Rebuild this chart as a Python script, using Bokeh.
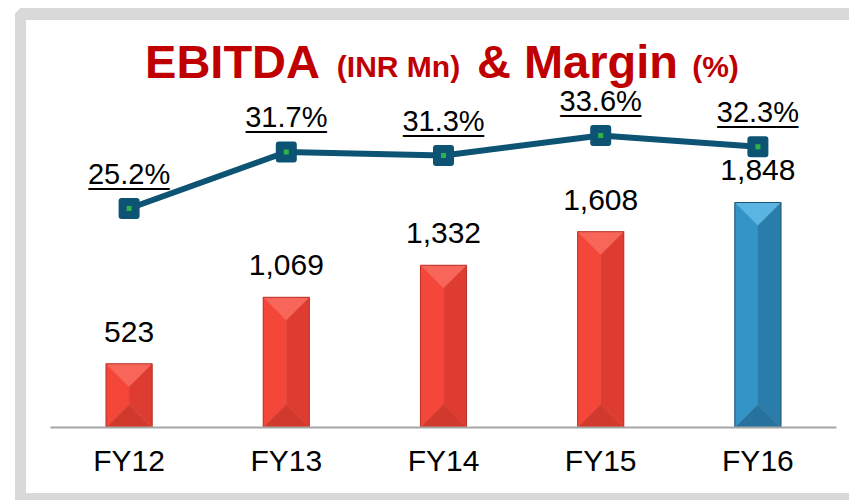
from bokeh.plotting import figure
from bokeh.models import Range1d, FactorRange, Label
from bokeh.embed import file_html
from bokeh.resources import INLINE
from bokeh.core.properties import value

# ---- data ----
categories = ["FY12", "FY13", "FY14", "FY15", "FY16"]
ebitda = [523, 1069, 1332, 1608, 1848]
ebitda_labels = ["523", "1,069", "1,332", "1,608", "1,848"]
margin = [25.2, 31.7, 31.3, 33.6, 32.3]
margin_labels = ["25.2%", "31.7%", "31.3%", "33.6%", "32.3%"]
highlight = [False, False, False, False, True]

# ---- layout ----
W, H = 849, 500
ML, MR, MT, MB = 50, 13, 0, 73
FW = W - ML - MR
FH = H - MT - MB
Y_END = 3507
PCT_END = 49.14
BAR_W = 0.293
FONT = "Liberation Sans"

gray = "#D9D9D9"
g = f"linear-gradient({gray},{gray})"
bg = (f"linear-gradient(135deg, #ffffff 50%, transparent 50%) 15px 8px / 6px 6px no-repeat, "
      f"{g} 15px 8px / 11px 492px no-repeat, "
      f"{g} 15px 8px / 834px 12px no-repeat, "
      f"{g} 15px 493px / 834px 7px no-repeat, #ffffff")

p = figure(width=W, height=H, x_range=FactorRange(*categories),
           y_range=Range1d(0, Y_END), output_backend="svg",
           toolbar_location=None, tools="",
           min_border_left=ML, min_border_right=MR,
           min_border_top=MT, min_border_bottom=MB,
           styles={"background": bg})
p.extra_y_ranges = {"pct": Range1d(0, PCT_END)}
p.outline_line_color = None
p.background_fill_color = None
p.border_fill_color = None
p.grid.visible = False
p.yaxis.visible = False

# ---- beveled bars ----
px_per_unit = FH / Y_END
cat_px = FW / len(categories)
d = (BAR_W * cat_px / 2) / px_per_unit  # 45-degree bevel depth in data units

red = dict(top="#F8665A", left="#F4473A", right="#DE3C30", bottom="#D2392D", edge="#B8322A")
blue = dict(top="#5AB5E3", left="#3394C7", right="#2A7DAA", bottom="#27729E", edge="#1B5578")

xs, ys, cols = [], [], []
for i, (v, hl) in enumerate(zip(ebitda, highlight)):
    c = blue if hl else red
    xc = i + 0.5
    xl, xr = xc - BAR_W / 2, xc + BAR_W / 2
    dd = min(d, v / 2)
    xs += [[xl, xr, xc], [xl, xc, xc, xl], [xr, xc, xc, xr], [xl, xr, xc]]
    ys += [[v, v, v - dd], [v, v - dd, dd, 0], [v, v - dd, dd, 0], [0, 0, dd]]
    cols += [c["top"], c["left"], c["right"], c["bottom"]]
p.patches(xs, ys, fill_color=cols, line_color=cols, line_width=0.5)
p.vbar(x=categories, top=ebitda, width=BAR_W, fill_alpha=0,
       line_color=[blue["edge"] if h else red["edge"] for h in highlight], line_width=1)

# value labels
p.text(x=categories, y=ebitda, text=ebitda_labels, text_align="center",
       text_baseline="alphabetic", y_offset=-32, text_font=value(FONT),
       text_font_size="30px", text_color="black")

# ---- margin line ----
line_col = "#0D5373"
p.line(x=categories, y=margin, y_range_name="pct", line_color=line_col, line_width=6)
p.scatter(x=categories, y=margin, y_range_name="pct", marker="square", size=15,
          fill_color=line_col, line_color=line_col, line_width=6, line_join="round")
p.scatter(x=categories, y=margin, y_range_name="pct", marker="square", size=5,
          fill_color="#2EB34A", line_color=None)
p.text(x=categories, y=margin, y_range_name="pct", text=margin_labels,
       text_align="center", text_baseline="alphabetic", y_offset=-35,
       text_font=value(FONT), text_font_size="29px", text_color="black")
p.text(x=categories, y=margin, y_range_name="pct", text=["_" * len(s) for s in margin_labels],
       text_align="center", text_baseline="alphabetic", y_offset=-35,
       text_font=value(FONT), text_font_size="29px", text_color="black")

# ---- x axis ----
ax = p.xaxis[0]
ax.axis_line_color = "#A6A6A6"
ax.axis_line_width = 2
ax.major_tick_line_color = None
ax.minor_tick_line_color = None
ax.major_label_text_font = FONT
ax.major_label_text_font_size = "30px"
ax.major_label_text_color = "black"
ax.major_label_standoff = 10

# ---- title ----
title_col = "#C00000"
for txt, cx, cy, size in [("EBITDA", 182, 366, "47px"), ("(INR Mn)", 348, 361, "30px"),
                          ("& Margin", 527, 366, "47px"), ("(%)", 665, 361, "30px")]:
    p.add_layout(Label(x=cx, y=cy, x_units="screen", y_units="screen", text=txt,
                       text_align="center", text_baseline="alphabetic",
                       text_font=FONT, text_font_style="bold",
                       text_font_size=size, text_color=title_col))

open("out.html", "w").write(file_html(p, INLINE))
